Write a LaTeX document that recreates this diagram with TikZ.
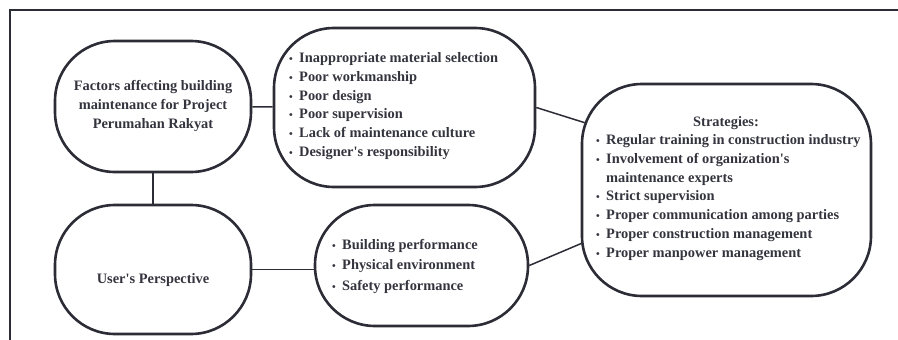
\documentclass[tikz,border=0pt]{standalone}
\usepackage{fontspec}
\setmainfont{Liberation Serif}[Ligatures=TeXOff]
\usetikzlibrary{calc}
\definecolor{ink}{RGB}{44,44,54}
\definecolor{txt}{RGB}{52,52,62}
\newcommand\bul{\makebox[10pt][l]{\fontsize{10.5}{10}\selectfont\textbullet}}
\begin{document}
\begin{tikzpicture}[x=1pt,y=-1pt,
  blob/.style={draw=ink, line width=2.6pt, rounded corners=60pt, inner sep=0pt},
  lbl/.style={text=txt, font=\fontsize{14.4}{18.7}\selectfont\bfseries, inner sep=0pt},
  link/.style={draw=ink, line width=1.5pt}
]
\useasboundingbox (0,0) rectangle (898,340);
\draw[ink, line width=1.3pt] (10,340) -- (10,10) -- (898,10);

\node[blob, minimum width=196pt, minimum height=131pt] (f) at (153,106.5) {};
\node[blob, minimum width=196pt, minimum height=129pt] (u) at (153,269.5) {};
\node[blob, minimum width=261pt, minimum height=159pt] (b1) at (404.5,107.5) {};
\node[blob, minimum width=213pt, minimum height=121pt] (b2) at (421.5,265.5) {};
\node[blob, minimum width=289pt, minimum height=212pt] (s) at (726.5,190) {};

\node[lbl, align=center] (ft) at (153,106) {Factors affecting building\\maintenance for Project\\Perumahan Rakyat};
\node[lbl, anchor=base] (ut) at (153,283) {User's Perspective};
\node[lbl, align=left, anchor=west] (b1t) at (289,106) {\bul Inappropriate material selection\\\bul Poor workmanship\\\bul Poor design\\\bul Poor supervision\\\bul Lack of maintenance culture\\\bul Designer's responsibility};
\node[lbl, align=left, anchor=west, font=\fontsize{14.4}{20.5}\selectfont\bfseries] (b2t) at (332,266) {\bul Building performance\\\bul Physical environment\\\bul Safety performance};
\node[lbl] (sh) at (726,123) {Strategies:};
\node[lbl, align=left, anchor=west] (st) at (596,197.5) {\bul Regular training in construction industry\\\bul Involvement of organization's\\\hspace*{10pt}maintenance experts\\\bul Strict supervision\\\bul Proper communication among parties\\\bul Proper construction management\\\bul Proper manpower management};

\coordinate (sa) at ($(s.north west)+(4,40)$);
\coordinate (sb) at ($(s.south west)+(1,-54)$);
\draw[link] (f) -- (b1);
\draw[link] (f) -- (u);
\draw[link] (u.east) -- (b2.west |- u.east);
\draw[link] (b1.east) -- (sa);
\draw[link] (b2.east) -- (sb);
\end{tikzpicture}
\end{document}
